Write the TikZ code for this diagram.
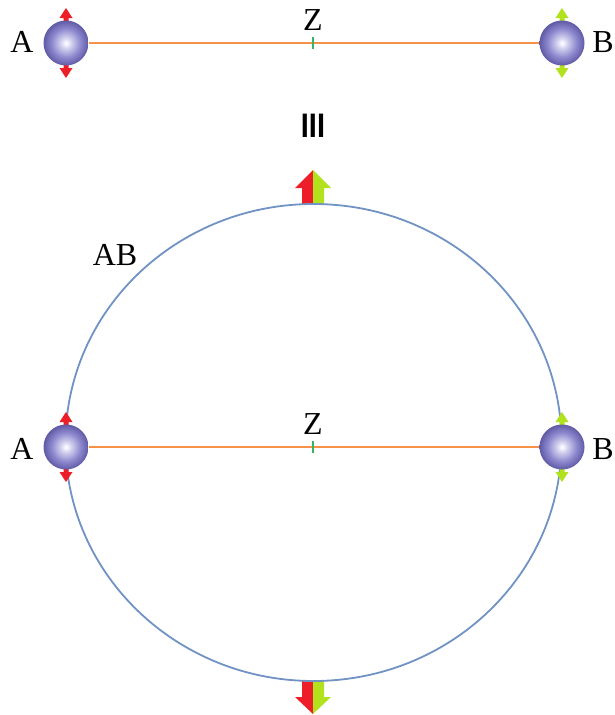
\documentclass[tikz,border=0pt]{standalone}
\usepackage{fontspec}
\setmainfont{Liberation Serif}
\newfontfamily\sansf{Liberation Sans}
\definecolor{ballmid}{RGB}{142,137,206}
\definecolor{balledge}{RGB}{96,90,166}
\definecolor{ballin}{RGB}{250,250,255}
\definecolor{balllight}{RGB}{210,208,238}
\definecolor{orangeline}{RGB}{246,146,72}
\definecolor{bluering}{RGB}{112,146,196}
\definecolor{redarr}{RGB}{236,30,40}
\definecolor{greenarr}{RGB}{178,226,30}
\definecolor{tickgreen}{RGB}{60,180,95}
\pgfdeclareradialshading{myball}{\pgfpoint{0bp}{0bp}}{color(0bp)=(ballin); color(1bp)=(ballin); color(6bp)=(balllight); color(16bp)=(ballmid); color(25bp)=(balledge); color(50bp)=(balledge)}
\tikzset{
  ball/.style={circle, minimum size=45pt, inner sep=0pt, shading=myball},
  lbl/.style={font=\fontsize{32}{32}\selectfont, inner sep=0pt, anchor=base},
  conn/.style={draw=orangeline, line width=1.8pt},
  ring/.style={draw=bluering, line width=1.8pt},
  ztick/.style={draw=tickgreen, line width=1.6pt}
}
% double arrow above and below a ball centre
\newcommand\ballarrows[2]{%
  \fill[#2] ([shift={(-2.5,-18)}]#1.center) -- ++(0,-7) -- ++(-4,0) -- ++(6.5,-10) -- ++(6.5,10) -- ++(-4,0) -- ++(0,7) -- cycle;
  \fill[#2] ([shift={(-2.5,18)}]#1.center) -- ++(0,7) -- ++(-4,0) -- ++(6.5,10) -- ++(6.5,-10) -- ++(-4,0) -- ++(0,-7) -- cycle;
}
\begin{document}
\begin{tikzpicture}[x=1pt,y=-1pt]
\useasboundingbox (0,0) rectangle (614,715);
% ---------- top row ----------
\coordinate (A1c) at (66,43);
\coordinate (B1c) at (562,43);
\ballarrows{A1c}{redarr}
\ballarrows{B1c}{greenarr}
\node[ball] (A1) at (A1c) {};
\node[ball] (B1) at (B1c) {};
\draw[conn] (A1.east) -- (B1.west);
\coordinate (Z1) at (313,43);
\draw[ztick] ([yshift=-6]Z1) -- ([yshift=6]Z1);
\node[lbl] (LA1) at (22,52) {A};
\node[lbl] (LB1) at (603,52) {B};
\node[lbl] (LZ1) at (313,30) {Z};
% ---------- label III ----------
\node[font=\fontsize{34}{34}\selectfont\sansf\bfseries, inner sep=0pt, anchor=base] (III) at (313,137) {\scalebox{0.85}[1]{III}};
% ---------- big arrows ----------
\fill[redarr] (302,204) -- (302,188) -- (295,188) -- (313,170) -- (313,204) -- cycle;
\fill[greenarr] (313,204) -- (313,170) -- (331,188) -- (324,188) -- (324,204) -- cycle;
\fill[redarr] (302,681) -- (302,697) -- (295,697) -- (313,714) -- (313,681) -- cycle;
\fill[greenarr] (313,681) -- (313,714) -- (331,697) -- (324,697) -- (324,681) -- cycle;
% ---------- ring ----------
\draw[ring] (313.5,442.5) ellipse [x radius=248, y radius=238.5];
% ---------- lower row ----------
\coordinate (A2c) at (66,447);
\coordinate (B2c) at (562,447);
\ballarrows{A2c}{redarr}
\ballarrows{B2c}{greenarr}
\node[ball] (A2) at (A2c) {};
\node[ball] (B2) at (B2c) {};
\draw[conn] (A2.east) -- (B2.west);
\coordinate (Z2) at (313,447);
\draw[ztick] ([yshift=-6]Z2) -- ([yshift=6]Z2);
\node[lbl] (LA2) at (22,459) {A};
\node[lbl] (LB2) at (603,459) {B};
\node[lbl] (LZ2) at (313,434) {Z};
\node[lbl] (LAB) at (115,265) {AB};
\end{tikzpicture}
\end{document}
